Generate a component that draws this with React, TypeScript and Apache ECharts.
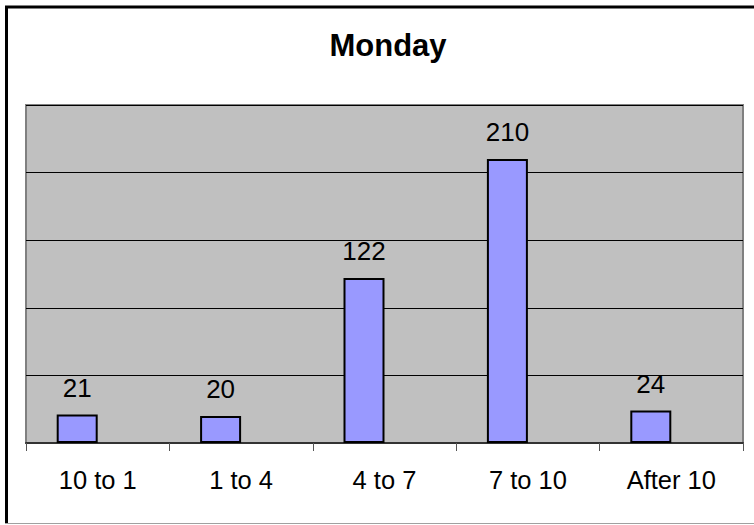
import React, { useEffect, useRef } from "react";
import * as echarts from "echarts";

const categories = ["10 to 1", "1 to 4", "4 to 7", "7 to 10", "After 10"];
const values = [21, 20, 122, 210, 24];
const emptySeries = [null, null, null, null, null];
const chartTitle = "Monday";

export default function App() {
  const ref = useRef<HTMLDivElement>(null);
  useEffect(() => {
    if (!ref.current) return;
    const chart = echarts.init(ref.current, null, { renderer: "svg" });
    chart.setOption({
      animation: false,
      backgroundColor: "#ffffff",
      textStyle: { fontFamily: "Arial, 'Liberation Sans', sans-serif" },
      grid: {
        left: 26,
        right: 11,
        top: 105,
        bottom: 82,
        show: true,
        backgroundColor: "#C0C0C0",
        borderColor: "#808080",
        borderWidth: 2,
      },
      xAxis: {
        type: "category",
        data: categories,
        axisLine: { show: true, lineStyle: { color: "#333333", width: 2 } },
        axisTick: { show: true, length: 8, lineStyle: { color: "#555555", width: 1 } },
        axisLabel: {
          fontSize: 25.5,
          color: "#000000",
          margin: 24,
          fontFamily: "Arial, 'Liberation Sans', sans-serif",
        },
        splitLine: { show: false },
      },
      yAxis: {
        type: "value",
        min: 0,
        max: 250,
        interval: 50,
        axisLabel: { show: false },
        axisLine: { show: false },
        axisTick: { show: false },
        splitLine: { show: true, lineStyle: { color: "#000000", width: 1 } },
      },
      series: [
        {
          type: "bar",
          data: values,
          barWidth: 41,
          barGap: "0%",
          itemStyle: { color: "#9999FF", borderColor: "#000000", borderWidth: 2 },
          label: {
            show: true,
            position: "top",
            distance: 14,
            fontSize: 26,
            color: "#000000",
            fontFamily: "Arial, 'Liberation Sans', sans-serif",
          },
        },
        {
          type: "bar",
          data: emptySeries,
          barWidth: 41,
          barGap: "0%",
        },
      ],
      graphic: [
        {
          type: "text",
          x: 388,
          y: 45,
          style: {
            text: chartTitle,
            fontSize: 31,
            fontWeight: "bold",
            fill: "#000000",
            fontFamily: "Arial, 'Liberation Sans', sans-serif",
            textAlign: "center",
            textVerticalAlign: "middle",
          },
        },
        {
          type: "line",
          shape: { x1: 6.5, y1: 6, x2: 6.5, y2: 524 },
          style: { stroke: "#000000", lineWidth: 3 },
        },
        {
          type: "line",
          shape: { x1: 5, y1: 7, x2: 754, y2: 7 },
          style: { stroke: "#000000", lineWidth: 3 },
        },
        {
          type: "line",
          shape: { x1: 5, y1: 523.5, x2: 754, y2: 523.5 },
          style: { stroke: "#A0A0A0", lineWidth: 1 },
        },
      ],
    });
    return () => chart.dispose();
  }, []);
  return (
    <div
      ref={ref}
      style={{ position: "absolute", left: 0, top: 0, width: 754, height: 525 }}
    />
  );
}
